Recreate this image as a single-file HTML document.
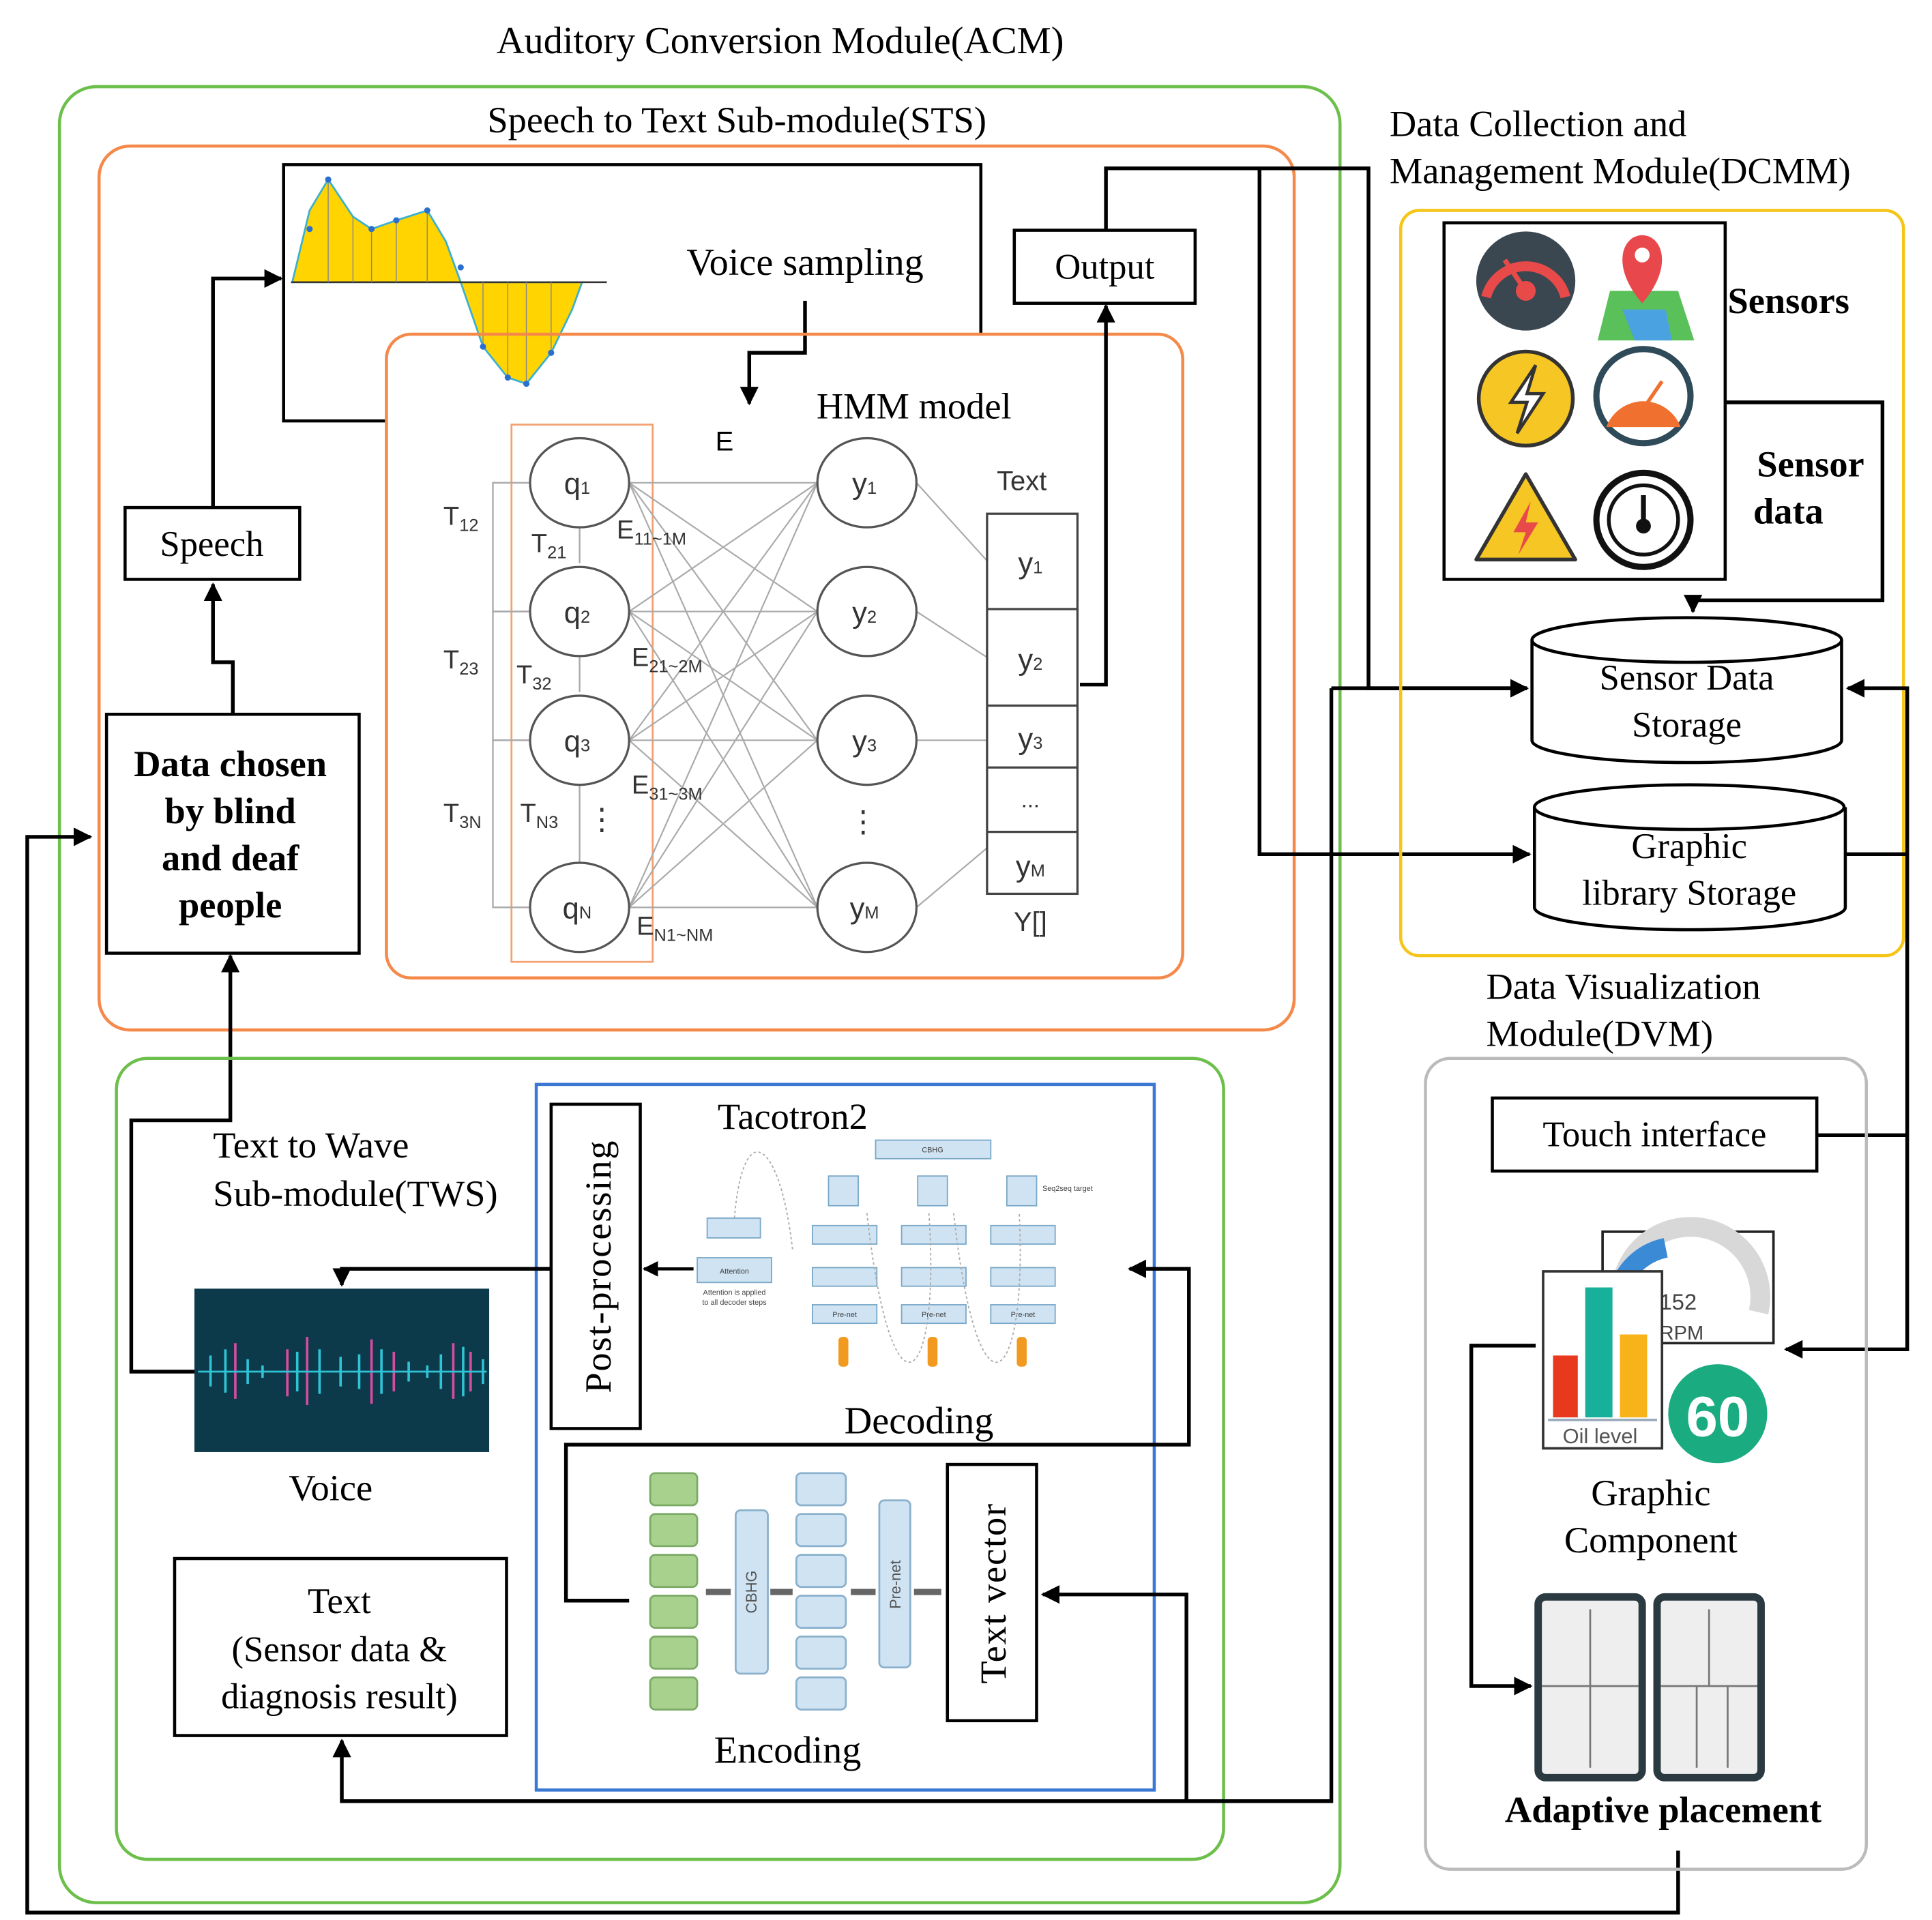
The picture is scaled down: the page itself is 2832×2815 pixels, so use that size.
<!DOCTYPE html>
<html><head><meta charset="utf-8"><style>html,body{margin:0;padding:0;background:#fff}svg{display:block}</style></head><body>
<svg width="2832" height="2815" viewBox="0 0 1560 1551" preserveAspectRatio="none" xmlns="http://www.w3.org/2000/svg" font-family="Liberation Serif, serif">
<defs>
<marker id="a" viewBox="0 0 10 10" refX="9" refY="5" markerWidth="5" markerHeight="5" orient="auto"><path d="M0,0L10,5L0,10z" fill="#000"/></marker>
<marker id="g" viewBox="0 0 10 10" refX="9" refY="5" markerWidth="6" markerHeight="6" orient="auto"><path d="M0,0L10,5L0,10z" fill="#999"/></marker>
</defs>
<rect width="1560" height="1551" fill="#fff"/>
<text x="630" y="43" font-size="31" text-anchor="middle">Auditory Conversion Module(ACM)</text>
<rect x="48" y="70" width="1034" height="1467" rx="30" fill="none" stroke="#6dbf4b" stroke-width="2.5"/>
<text x="595" y="107" font-size="30" text-anchor="middle">Speech to Text Sub-module(STS)</text>
<rect x="80" y="118" width="965" height="714" rx="25" fill="none" stroke="#f4894a" stroke-width="2.5"/>
<!-- waveform box -->
<path d="M312,340H229V133H792V270" fill="none" stroke="#000" stroke-width="2.5"/>
<path d="M236,228 L250,170 L265,145 L285,175 L300,185 L320,178 L345,170 L360,195 L372,228Z" fill="#ffd400" stroke="#3ab0d0" stroke-width="1.5"/>
<path d="M372,228 L390,280 L410,305 L425,310 L445,285 L462,250 L470,228Z" fill="#ffd400" stroke="#3ab0d0" stroke-width="1.5"/>
<line x1="235" y1="228" x2="490" y2="228" stroke="#333" stroke-width="1.5"/>
<g stroke="#888" stroke-width="0.8"><line x1="265" y1="145" x2="265" y2="228"/><line x1="285" y1="175" x2="285" y2="228"/><line x1="300" y1="185" x2="300" y2="228"/><line x1="320" y1="178" x2="320" y2="228"/><line x1="345" y1="170" x2="345" y2="228"/><line x1="390" y1="228" x2="390" y2="280"/><line x1="410" y1="228" x2="410" y2="305"/><line x1="425" y1="228" x2="425" y2="310"/><line x1="445" y1="228" x2="445" y2="285"/></g>
<g fill="#2a6fd0"><circle cx="265" cy="145" r="2.5"/><circle cx="300" cy="185" r="2.5"/><circle cx="320" cy="178" r="2.5"/><circle cx="345" cy="170" r="2.5"/><circle cx="372" cy="216" r="2.5"/><circle cx="390" cy="280" r="2.5"/><circle cx="410" cy="305" r="2.5"/><circle cx="425" cy="310" r="2.5"/><circle cx="445" cy="285" r="2.5"/><circle cx="250" cy="185" r="2.5"/></g>
<text x="650" y="222" font-size="31" text-anchor="middle">Voice sampling</text>
<path d="M650,243V285H605V326" fill="none" stroke="#000" stroke-width="3" marker-end="url(#a)"/>
<!-- HMM -->
<rect x="312" y="270" width="643" height="520" rx="20" fill="none" stroke="#f4894a" stroke-width="2.5"/>
<text x="738" y="338" font-size="30" text-anchor="middle">HMM model</text>
<text x="585" y="364" font-size="22" font-family="Liberation Sans, sans-serif" text-anchor="middle">E</text>
<rect x="413" y="343" width="114" height="434" fill="none" stroke="#f4a070" stroke-width="1.5"/>
<g stroke="#aaa" stroke-width="1.3" fill="none">
<path d="M427,390H398V494H427"/><path d="M427,494H398V598H427"/><path d="M427,598H398V733H427"/>
<line x1="468" y1="455" x2="468" y2="426"/><line x1="468" y1="559" x2="468" y2="530"/><line x1="468" y1="698" x2="468" y2="634"/>
</g>
<g stroke="#aaa" stroke-width="1.2">
<line x1="508" y1="390" x2="660" y2="390"/><line x1="508" y1="390" x2="660" y2="494"/><line x1="508" y1="390" x2="660" y2="598"/><line x1="508" y1="390" x2="660" y2="733"/>
<line x1="508" y1="494" x2="660" y2="390"/><line x1="508" y1="494" x2="660" y2="494"/><line x1="508" y1="494" x2="660" y2="598"/><line x1="508" y1="494" x2="660" y2="733"/>
<line x1="508" y1="598" x2="660" y2="390"/><line x1="508" y1="598" x2="660" y2="494"/><line x1="508" y1="598" x2="660" y2="598"/><line x1="508" y1="598" x2="660" y2="733"/>
<line x1="508" y1="733" x2="660" y2="390"/><line x1="508" y1="733" x2="660" y2="494"/><line x1="508" y1="733" x2="660" y2="598"/><line x1="508" y1="733" x2="660" y2="733"/>
<line x1="740" y1="390" x2="797" y2="453"/><line x1="740" y1="494" x2="797" y2="531"/><line x1="740" y1="598" x2="797" y2="598"/><line x1="740" y1="733" x2="797" y2="685"/>
</g>
<g fill="#fff" stroke="#555" stroke-width="1.8">
<ellipse cx="468" cy="390" rx="40" ry="36"/><ellipse cx="468" cy="494" rx="40" ry="36"/><ellipse cx="468" cy="598" rx="40" ry="36"/><ellipse cx="468" cy="733" rx="40" ry="36"/>
<ellipse cx="700" cy="390" rx="40" ry="36"/><ellipse cx="700" cy="494" rx="40" ry="36"/><ellipse cx="700" cy="598" rx="40" ry="36"/><ellipse cx="700" cy="733" rx="40" ry="36"/>
</g>
<g font-family="Liberation Sans, sans-serif" font-size="24" fill="#333" text-anchor="middle">
<text x="466" y="399">q<tspan font-size="14">1</tspan></text><text x="466" y="503">q<tspan font-size="14">2</tspan></text><text x="466" y="607">q<tspan font-size="14">3</tspan></text><text x="466" y="742">q<tspan font-size="14">N</tspan></text>
<text x="698" y="399">y<tspan font-size="14">1</tspan></text><text x="698" y="503">y<tspan font-size="14">2</tspan></text><text x="698" y="607">y<tspan font-size="14">3</tspan></text><text x="698" y="742">y<tspan font-size="14">M</tspan></text>
<text x="697" y="672">⋮</text><text x="486" y="670">⋮</text>
<text x="825" y="396" font-size="22">Text</text>
<text x="832" y="752" font-size="22">Y[]</text>
</g>
<g font-family="Liberation Sans, sans-serif" font-size="21" fill="#333">
<text x="358" y="424">T<tspan font-size="14" dy="5">12</tspan></text>
<text x="429" y="446">T<tspan font-size="14" dy="5">21</tspan></text>
<text x="358" y="540">T<tspan font-size="14" dy="5">23</tspan></text>
<text x="417" y="552">T<tspan font-size="14" dy="5">32</tspan></text>
<text x="358" y="664">T<tspan font-size="14" dy="5">3N</tspan></text>
<text x="420" y="664">T<tspan font-size="14" dy="5">N3</tspan></text>
<text x="498" y="435">E<tspan font-size="14" dy="5">11~1M</tspan></text>
<text x="510" y="538">E<tspan font-size="14" dy="5">21~2M</tspan></text>
<text x="510" y="641">E<tspan font-size="14" dy="5">31~3M</tspan></text>
<text x="514" y="755">E<tspan font-size="14" dy="5">N1~NM</tspan></text>
</g>
<rect x="797" y="415" width="73" height="307" fill="#fff" stroke="#444" stroke-width="1.8"/>
<g stroke="#444" stroke-width="1.8"><line x1="797" y1="492" x2="870" y2="492"/><line x1="797" y1="570" x2="870" y2="570"/><line x1="797" y1="620" x2="870" y2="620"/><line x1="797" y1="672" x2="870" y2="672"/></g>
<g font-family="Liberation Sans, sans-serif" font-size="24" fill="#333" text-anchor="middle">
<text x="832" y="463">y<tspan font-size="14">1</tspan></text><text x="832" y="541">y<tspan font-size="14">2</tspan></text><text x="832" y="605">y<tspan font-size="14">3</tspan></text><text x="832" y="652" font-size="18">...</text><text x="832" y="708">y<tspan font-size="14">M</tspan></text>
</g>
<!-- Output -->
<rect x="819" y="186" width="146" height="59" fill="#fff" stroke="#000" stroke-width="2.5"/>
<text x="892" y="225" font-size="29" text-anchor="middle">Output</text>
<path d="M872,553H893V247" fill="none" stroke="#000" stroke-width="3" marker-end="url(#a)"/>
<path d="M893,186V136H1105V556H1233" fill="none" stroke="#000" stroke-width="3" marker-end="url(#a)"/>
<path d="M1017,136V690H1235" fill="none" stroke="#000" stroke-width="3" marker-end="url(#a)"/>
<!-- Speech & data chosen -->
<rect x="101" y="410" width="141" height="58" fill="#fff" stroke="#000" stroke-width="2.5"/>
<text x="171" y="449" font-size="29" text-anchor="middle">Speech</text>
<path d="M172,410V225H227" fill="none" stroke="#000" stroke-width="3" marker-end="url(#a)"/>
<path d="M188,577V535H172V472" fill="none" stroke="#000" stroke-width="3" marker-end="url(#a)"/>
<rect x="86" y="577" width="204" height="193" fill="#fff" stroke="#000" stroke-width="2.5"/>
<g font-size="30" font-weight="bold" text-anchor="middle"><text x="186" y="627">Data chosen</text><text x="186" y="665">by blind</text><text x="186" y="703">and deaf</text><text x="186" y="741">people</text></g>
<path d="M1355,1495V1545H22V676H73" fill="none" stroke="#000" stroke-width="3" marker-end="url(#a)"/>
<path d="M157,1108H106V905H186V772" fill="none" stroke="#000" stroke-width="3" marker-end="url(#a)"/>
<!-- TWS -->
<rect x="94" y="855" width="894" height="647" rx="25" fill="none" stroke="#6dbf4b" stroke-width="2.5"/>
<text x="172" y="935" font-size="30">Text to Wave</text>
<text x="172" y="974" font-size="30">Sub-module(TWS)</text>
<rect x="433" y="876" width="499" height="570" fill="none" stroke="#3a78d4" stroke-width="2.5"/>
<rect x="445" y="892" width="72" height="262" fill="#fff" stroke="#000" stroke-width="2.5"/>
<text transform="translate(493,1023) rotate(-90)" font-size="30" text-anchor="middle" letter-spacing="1">Post-processing</text>
<text x="640" y="912" font-size="30" text-anchor="middle">Tacotron2</text>
<!-- decoding illustration -->
<g fill="#cfe3f3" stroke="#7aa8c8" stroke-width="1">
<rect x="707" y="921" width="93" height="15"/>
<rect x="571" y="984" width="43" height="16"/><rect x="563" y="1016" width="60" height="20"/>
<rect x="656" y="990" width="52" height="15"/><rect x="728" y="990" width="52" height="15"/><rect x="800" y="990" width="52" height="15"/>
<rect x="656" y="1024" width="52" height="15"/><rect x="728" y="1024" width="52" height="15"/><rect x="800" y="1024" width="52" height="15"/>
<rect x="656" y="1054" width="52" height="15"/><rect x="728" y="1054" width="52" height="15"/><rect x="800" y="1054" width="52" height="15"/>
<rect x="669" y="950" width="24" height="24"/><rect x="741" y="950" width="24" height="24"/><rect x="813" y="950" width="24" height="24"/>
</g>
<g fill="#f29a1f"><rect x="677" y="1080" width="8" height="24" rx="3"/><rect x="749" y="1080" width="8" height="24" rx="3"/><rect x="821" y="1080" width="8" height="24" rx="3"/></g>
<g font-family="Liberation Sans, sans-serif" font-size="6" fill="#444" text-anchor="middle"><text x="753" y="931">CBHG</text><text x="593" y="1029">Attention</text><text x="682" y="1064">Pre-net</text><text x="754" y="1064">Pre-net</text><text x="826" y="1064">Pre-net</text><text x="593" y="1046">Attention is applied</text><text x="593" y="1054">to all decoder steps</text><text x="862" y="962">Seq2seq target</text></g>
<path d="M593,984 C600,900 630,920 640,1010 M700,980 C720,1160 760,1120 750,980 M770,980 C790,1160 830,1120 823,980" fill="none" stroke="#aaa" stroke-width="1" stroke-dasharray="2 2"/>
<path d="M520,1025H560" stroke="#000" stroke-width="2.5" marker-end="url(#a)" transform="rotate(180 540 1025)"/>
<text x="742" y="1158" font-size="31" text-anchor="middle">Decoding</text>
<path d="M508,1293H457V1167H960V1025H912" fill="none" stroke="#000" stroke-width="3" marker-end="url(#a)"/>
<!-- encoding illustration -->
<g fill="#a9d18e" stroke="#7aaa66" stroke-width="1.5"><rect x="525" y="1190" width="38" height="26" rx="4"/><rect x="525" y="1223" width="38" height="26" rx="4"/><rect x="525" y="1256" width="38" height="26" rx="4"/><rect x="525" y="1289" width="38" height="26" rx="4"/><rect x="525" y="1322" width="38" height="26" rx="4"/><rect x="525" y="1355" width="38" height="26" rx="4"/></g>
<g fill="#cfe3f3" stroke="#8ab0cc" stroke-width="1.5"><rect x="594" y="1220" width="26" height="132" rx="4"/><rect x="643" y="1190" width="40" height="26" rx="4"/><rect x="643" y="1223" width="40" height="26" rx="4"/><rect x="643" y="1256" width="40" height="26" rx="4"/><rect x="643" y="1289" width="40" height="26" rx="4"/><rect x="643" y="1322" width="40" height="26" rx="4"/><rect x="643" y="1355" width="40" height="26" rx="4"/><rect x="710" y="1212" width="25" height="135" rx="4"/></g>
<g font-family="Liberation Sans, sans-serif" font-size="12" fill="#555" text-anchor="middle"><text transform="translate(611,1286) rotate(-90)">CBHG</text><text transform="translate(727,1280) rotate(-90)">Pre-net</text></g>
<g stroke="#666" stroke-width="5"><line x1="590" y1="1286" x2="570" y2="1286"/><line x1="640" y1="1286" x2="622" y2="1286"/><line x1="707" y1="1286" x2="687" y2="1286"/><line x1="760" y1="1286" x2="738" y2="1286"/></g>
<text x="636" y="1424" font-size="31" text-anchor="middle">Encoding</text>
<rect x="765" y="1183" width="72" height="207" fill="#fff" stroke="#000" stroke-width="2.5"/>
<text transform="translate(812,1287) rotate(-90)" font-size="30" text-anchor="middle" letter-spacing="1">Text vector</text>
<!-- voice -->
<rect x="157" y="1041" width="238" height="132" fill="#0d3a4a"/>
<g stroke="#d64ca0" stroke-width="2"><line x1="190" y1="1085" x2="190" y2="1130"/><line x1="232" y1="1090" x2="232" y2="1128"/><line x1="248" y1="1080" x2="248" y2="1135"/><line x1="300" y1="1082" x2="300" y2="1134"/><line x1="318" y1="1092" x2="318" y2="1124"/><line x1="366" y1="1085" x2="366" y2="1130"/><line x1="380" y1="1092" x2="380" y2="1124"/></g>
<g stroke="#2fc3d6" stroke-width="2"><line x1="170" y1="1095" x2="170" y2="1120"/><line x1="182" y1="1090" x2="182" y2="1125"/><line x1="200" y1="1098" x2="200" y2="1118"/><line x1="212" y1="1103" x2="212" y2="1113"/><line x1="240" y1="1092" x2="240" y2="1124"/><line x1="258" y1="1090" x2="258" y2="1126"/><line x1="275" y1="1096" x2="275" y2="1120"/><line x1="290" y1="1094" x2="290" y2="1122"/><line x1="308" y1="1090" x2="308" y2="1126"/><line x1="330" y1="1100" x2="330" y2="1116"/><line x1="345" y1="1103" x2="345" y2="1113"/><line x1="356" y1="1094" x2="356" y2="1122"/><line x1="374" y1="1088" x2="374" y2="1128"/><line x1="390" y1="1098" x2="390" y2="1118"/></g>
<line x1="160" y1="1108" x2="393" y2="1108" stroke="#2fc3d6" stroke-width="1.5"/>
<text x="267" y="1212" font-size="30" text-anchor="middle">Voice</text>
<path d="M445,1025H276V1038" fill="none" stroke="#000" stroke-width="3" marker-end="url(#a)"/>
<rect x="141" y="1259" width="268" height="143" fill="#fff" stroke="#000" stroke-width="2.5"/>
<g font-size="29" text-anchor="middle"><text x="274" y="1303">Text</text><text x="274" y="1342">(Sensor data &amp;</text><text x="274" y="1380">diagnosis result)</text></g>
<path d="M1075,556V1455H276V1406" fill="none" stroke="#000" stroke-width="3" marker-end="url(#a)"/>
<path d="M1075,556H1233" fill="none" stroke="#000" stroke-width="3" marker-end="url(#a)"/>
<path d="M958,1455V1288H842" fill="none" stroke="#000" stroke-width="3" marker-end="url(#a)"/>
<!-- DCMM -->
<text x="1122" y="110" font-size="30">Data Collection and</text>
<text x="1122" y="148" font-size="30">Management Module(DCMM)</text>
<rect x="1131" y="170" width="406" height="602" rx="15" fill="none" stroke="#f5c518" stroke-width="2.5"/>
<rect x="1166" y="180" width="227" height="288" fill="#fff" stroke="#000" stroke-width="2.5"/>
<circle cx="1232" cy="227" r="40" fill="#3a4750"/><path d="M1200,240 A33,33 0 0 1 1264,240" fill="none" stroke="#e84a4a" stroke-width="8"/><circle cx="1232" cy="235" r="8" fill="#e84a4a"/><line x1="1232" y1="235" x2="1215" y2="210" stroke="#e84a4a" stroke-width="4"/>
<path d="M1290,275 L1300,235 L1355,235 L1368,275Z" fill="#5ac05a"/><path d="M1310,250 L1345,250 L1350,275 L1320,275Z" fill="#4aa3e0"/><path d="M1326,245 C1300,215 1310,190 1326,190 C1342,190 1352,215 1326,245Z" fill="#e8474c"/><circle cx="1326" cy="206" r="6" fill="#fff"/>
<circle cx="1232" cy="322" r="38" fill="#f6c624" stroke="#333" stroke-width="3"/><path d="M1240,295 L1220,325 L1233,325 L1225,350 L1246,318 L1233,318Z" fill="#fff" stroke="#333" stroke-width="2.5"/>
<circle cx="1327" cy="320" r="38" fill="#fff" stroke="#2f4a58" stroke-width="5"/><path d="M1297,345 A32,32 0 0 1 1357,345 Z" fill="#f07030"/><line x1="1327" y1="330" x2="1342" y2="308" stroke="#f07030" stroke-width="3"/>
<path d="M1232,383 L1272,452 L1192,452Z" fill="#f6c624" stroke="#333" stroke-width="3" stroke-linejoin="round"/><path d="M1236,405 L1222,430 L1232,430 L1226,448 L1242,422 L1232,422Z" fill="#e84a4a"/>
<circle cx="1327" cy="420" r="38" fill="#fff" stroke="#111" stroke-width="5"/><circle cx="1327" cy="420" r="28" fill="none" stroke="#111" stroke-width="3"/><circle cx="1327" cy="425" r="6" fill="#111"/><line x1="1327" y1="400" x2="1327" y2="420" stroke="#111" stroke-width="4"/>
<text x="1395" y="253" font-size="30" font-weight="bold">Sensors</text>
<text x="1462" y="385" font-size="30" font-weight="bold" text-anchor="middle">Sensor</text>
<text x="1444" y="423" font-size="30" font-weight="bold" text-anchor="middle">data</text>
<path d="M1393,325H1520V485H1367V494" fill="none" stroke="#000" stroke-width="3" marker-end="url(#a)"/>
<g fill="#fff" stroke="#000" stroke-width="2.5">
<path d="M1237,517V598A125,18 0 0 0 1487,598V517"/><ellipse cx="1362" cy="517" rx="125" ry="18"/>
<path d="M1239,652V733A125,18 0 0 0 1490,733V652"/><ellipse cx="1364" cy="652" rx="125" ry="18"/>
</g>
<g font-size="29" text-anchor="middle"><text x="1362" y="557">Sensor Data</text><text x="1362" y="595">Storage</text><text x="1364" y="693">Graphic</text><text x="1364" y="731">library Storage</text></g>
<path d="M1490,690H1540V1090H1442" fill="none" stroke="#000" stroke-width="3" marker-end="url(#a)"/>
<path d="M1540,690V556H1492" fill="none" stroke="#000" stroke-width="3" marker-end="url(#a)"/>
<path d="M1467,917H1540" fill="none" stroke="#000" stroke-width="3"/>
<!-- DVM -->
<text x="1200" y="807" font-size="30">Data Visualization</text>
<text x="1200" y="845" font-size="30">Module(DVM)</text>
<rect x="1151" y="855" width="356" height="655" rx="20" fill="none" stroke="#bbb" stroke-width="2.5"/>
<rect x="1205" y="887" width="262" height="59" fill="#fff" stroke="#000" stroke-width="2.5"/>
<text x="1336" y="926" font-size="29" text-anchor="middle">Touch interface</text>
<rect x="1294" y="995" width="138" height="90" fill="#fff" stroke="#222" stroke-width="2"/>
<path d="M1310,1035 A50,50 0 0 1 1420,1060" fill="none" stroke="#d8d8d8" stroke-width="16"/><path d="M1310,1035 A50,50 0 0 1 1345,1008" fill="none" stroke="#3a8ad6" stroke-width="16"/>
<text x="1340" y="1058" font-family="Liberation Sans, sans-serif" font-size="18" fill="#444">152</text><text x="1340" y="1082" font-family="Liberation Sans, sans-serif" font-size="16" fill="#444">RPM</text>
<rect x="1246" y="1027" width="96" height="143" fill="#fff" stroke="#333" stroke-width="2"/>
<rect x="1254" y="1095" width="20" height="50" fill="#e8391e"/><rect x="1280" y="1040" width="22" height="105" fill="#17b09a"/><rect x="1308" y="1078" width="22" height="67" fill="#f8b21a"/>
<line x1="1250" y1="1147" x2="1338" y2="1147" stroke="#9ab" stroke-width="2"/>
<text x="1292" y="1166" font-family="Liberation Sans, sans-serif" font-size="17" fill="#555" text-anchor="middle">Oil level</text>
<circle cx="1387" cy="1142" r="40" fill="#1aab80"/><text x="1387" y="1160" font-family="Liberation Sans, sans-serif" font-size="46" font-weight="bold" fill="#fff" text-anchor="middle">60</text>
<g font-size="30" text-anchor="middle"><text x="1333" y="1216">Graphic</text><text x="1333" y="1254">Component</text></g>
<g fill="#eee" stroke="#2a3a40" stroke-width="6"><rect x="1242" y="1290" width="84" height="146" rx="6"/><rect x="1338" y="1290" width="84" height="146" rx="6"/></g>
<g stroke="#777" stroke-width="1.5"><line x1="1284" y1="1300" x2="1284" y2="1428"/><line x1="1245" y1="1362" x2="1323" y2="1362"/><line x1="1380" y1="1300" x2="1380" y2="1362"/><line x1="1341" y1="1362" x2="1419" y2="1362"/><line x1="1370" y1="1362" x2="1370" y2="1428"/><line x1="1395" y1="1362" x2="1395" y2="1428"/></g>
<path d="M1240,1087H1188V1362H1236" fill="none" stroke="#000" stroke-width="3" marker-end="url(#a)"/>
<text x="1343" y="1472" font-size="30" font-weight="bold" text-anchor="middle">Adaptive placement</text>
</svg>
</body></html>
